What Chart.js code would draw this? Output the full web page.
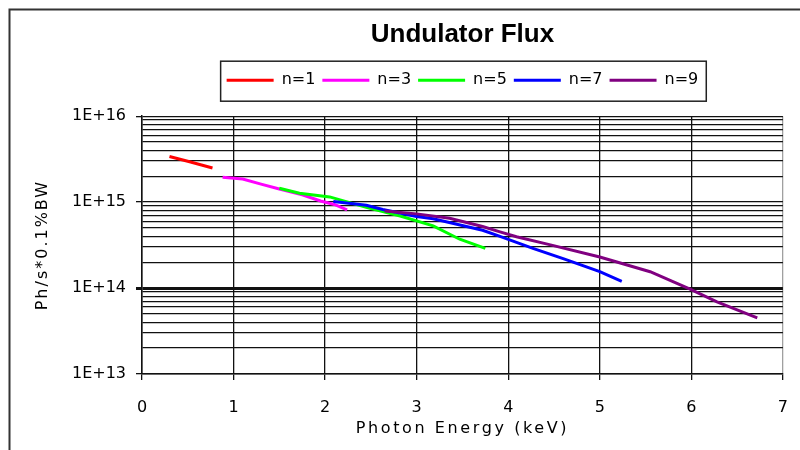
<!DOCTYPE html>
<html>
<head>
<meta charset="utf-8">
<script src="https://cdn.jsdelivr.net/npm/chart.js@4.4.1/dist/chart.umd.min.js"></script>
<style>
  html, body { margin: 0; padding: 0; background: #fff; overflow: hidden; }
  canvas { display: block; }
</style>
</head>
<body>
<canvas id="fluxChart" width="800" height="450"></canvas>
<script>
const seriesNames = ['n=1', 'n=3', 'n=5', 'n=7', 'n=9'];
const seriesColors = ['#ff0000', '#ff00ff', '#00ff00', '#0000ff', '#800080'];

// photon energy (keV) and flux (Ph/s*0.1%BW)
const n1Energy = [0.30, 0.52, 0.77];
const n1Flux = [3.4e15, 2.95e15, 2.5e15];
const n3Energy = [0.88, 1.1, 1.3, 1.5, 1.75, 1.95, 2.1, 2.24];
const n3Flux = [1.95e15, 1.86e15, 1.62e15, 1.42e15, 1.22e15, 1.03e15, 9.4e14, 8.1e14];
const n5Energy = [1.5, 1.72, 2.05, 2.45, 2.82, 3.18, 3.47, 3.75];
const n5Flux = [1.45e15, 1.27e15, 1.15e15, 8.7e14, 6.9e14, 5.3e14, 3.7e14, 2.9e14];
const n7Energy = [2.09, 2.45, 2.63, 3.0, 3.18, 3.72, 3.91, 4.27, 4.6, 5.0, 5.24];
const n7Flux = [1.02e15, 9.2e14, 8.2e14, 6.8e14, 6.4e14, 4.7e14, 4.0e14, 2.9e14, 2.2e14, 1.55e14, 1.2e14];
const n9Energy = [2.65, 3.0, 3.36, 3.72, 3.91, 4.09, 4.45, 5.0, 5.55, 5.98, 6.28, 6.72];
const n9Flux = [7.9e14, 7.3e14, 6.5e14, 5.2e14, 4.5e14, 3.95e14, 3.2e14, 2.3e14, 1.55e14, 9.8e13, 6.9e13, 4.5e13];

const xTicks = [0, 1, 2, 3, 4, 5, 6, 7];
const yDecades = [1e13, 1e14, 1e15, 1e16];
const yTickLabels = ['1E+13', '1E+14', '1E+15', '1E+16'];
const yMinorSteps = [2, 3, 4, 5, 6, 7, 8, 9];

const xTitle = 'Photon Energy (keV)';
const yTitle = 'Ph/s*0.1%BW';

const energies = [n1Energy, n3Energy, n5Energy, n7Energy, n9Energy];
const fluxes = [n1Flux, n3Flux, n5Flux, n7Flux, n9Flux];

// every gridline of the log axis: decades plus 2..9 inside each decade
const yTickValues = [];
yDecades.forEach((d, i) => {
  yTickValues.push(d);
  if (i < yDecades.length - 1) yMinorSteps.forEach(m => yTickValues.push(m * d));
});

const datasets = seriesNames.map((name, i) => ({
  label: name,
  data: energies[i].map((e, j) => ({x: e, y: fluxes[i][j]})),
  borderColor: seriesColors[i],
  backgroundColor: seriesColors[i],
  pointBorderColor: seriesColors[i],
  pointBorderWidth: 3,
  borderWidth: 3,
  pointRadius: 0,
  tension: 0,
  // later series sit on top, like the original
  order: seriesNames.length - i
}));

// empty strip between the legend and the plot
const legendGap = {
  id: 'legendGap',
  beforeInit(chart) {
    Chart.layouts.addBox(chart, {
      position: 'top',
      weight: 0,
      fullSize: false,
      options: {},
      isHorizontal() { return true; },
      update(maxWidth) { this.width = maxWidth; this.height = 18; },
      draw() {}
    });
  }
};

// outer frame, legend border and the spaced-out axis titles
const frameAndTitles = {
  id: 'frameAndTitles',
  afterDraw(chart) {
    const ctx = chart.ctx;
    const area = chart.chartArea;
    ctx.save();
    ctx.strokeStyle = '#333';
    ctx.lineWidth = 2;
    ctx.strokeRect(9.5, 9.5, 900, 500);

    const boxes = chart.legend.legendHitBoxes;
    if (boxes && boxes.length) {
      const first = boxes[0];
      const last = boxes[boxes.length - 1];
      const left = first.left - 6;
      const right = last.left + last.width + 8;
      ctx.lineWidth = 1.5;
      ctx.strokeStyle = '#222';
      ctx.strokeRect(left, first.top - 11, right - left, first.height + 24);
    }

    ctx.fillStyle = '#000';
    ctx.font = '16px "DejaVu Sans"';
    ctx.textAlign = 'center';
    ctx.textBaseline = 'middle';
    ctx.letterSpacing = '2.6px';
    ctx.fillText(xTitle, (area.left + area.right) / 2, 429);
    ctx.translate(43, (area.top + area.bottom) / 2);
    ctx.rotate(-Math.PI / 2);
    ctx.letterSpacing = '2px';
    ctx.fillText(yTitle, 0, 0);
    ctx.restore();
  }
};

Chart.defaults.font.family = '"DejaVu Sans", sans-serif';
Chart.defaults.font.size = 16;
Chart.defaults.color = '#000';

const fluxChart = new Chart(document.getElementById('fluxChart'), {
  type: 'line',
  data: {datasets: datasets},
  options: {
    responsive: false,
    animation: false,
    devicePixelRatio: 1,
    layout: {padding: {left: 0, right: 17, top: 0, bottom: 0}},
    scales: {
      x: {
        type: 'linear',
        min: xTicks[0],
        max: xTicks[xTicks.length - 1],
        afterFit(scale) { scale.height = 76; },
        afterBuildTicks(scale) { scale.ticks = xTicks.map(v => ({value: v})); },
        ticks: {padding: 12, color: '#000', font: {lineHeight: 1.95}},
        grid: {
          color: c => (c.tick && c.tick.value === 7) ? '#a0a0a0' : '#111',
          lineWidth: 1.3,
          tickLength: 6,
          tickColor: '#111'
        },
        border: {color: '#111', width: 1.5}
      },
      y: {
        type: 'logarithmic',
        min: yDecades[0],
        max: yDecades[yDecades.length - 1],
        afterFit(scale) { scale.width = 142; },
        afterBuildTicks(scale) { scale.ticks = yTickValues.map(v => ({value: v})); },
        ticks: {
          autoSkip: false,
          padding: 10,
          color: '#000',
          callback: value => {
            const k = yDecades.indexOf(value);
            return k >= 0 ? yTickLabels[k] : '';
          }
        },
        grid: {
          color: '#111',
          lineWidth: c => (c.tick && c.tick.value === 1e14) ? 3 : 1.3,
          tickLength: 6,
          tickColor: c => (c.tick && yDecades.indexOf(c.tick.value) >= 0) ? '#111' : 'rgba(0,0,0,0)'
        },
        border: {color: '#111', width: 1.5}
      }
    },
    plugins: {
      title: {
        display: true,
        text: 'Undulator Flux',
        fullSize: false,
        color: '#000',
        font: {family: '"Liberation Sans", Arial, sans-serif', size: 26, weight: 'bold'},
        padding: {top: 19, bottom: 15}
      },
      legend: {
        position: 'top',
        fullSize: false,
        align: 'center',
        labels: {
          usePointStyle: true,
          pointStyle: 'line',
          pointStyleWidth: 47,
          padding: 7,
          color: '#000',
          font: {size: 16},
          sort: (a, b) => a.datasetIndex - b.datasetIndex
        }
      },
      tooltip: {enabled: false}
    }
  },
  plugins: [legendGap, frameAndTitles]
});
</script>
</body>
</html>
